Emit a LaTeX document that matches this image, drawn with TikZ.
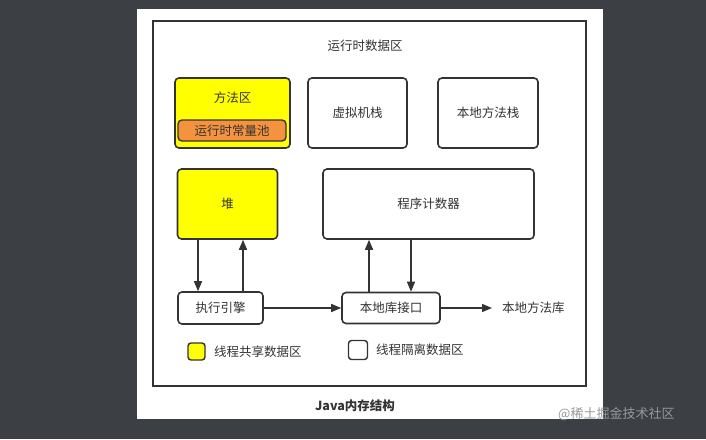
\documentclass[tikz,border=0pt]{standalone}
\usepackage{fontspec}
\newfontfamily\cjk{Noto Sans CJK SC}
\usetikzlibrary{arrows.meta}
\definecolor{bgdark}{RGB}{60,63,68}
\definecolor{ink}{RGB}{51,51,51}
\definecolor{yel}{RGB}{255,255,0}
\definecolor{org}{RGB}{245,146,62}
\definecolor{wm}{RGB}{150,152,156}
\tikzset{
  box/.style={draw=ink, line width=1.6pt, rounded corners=4pt, fill=white, inner sep=0pt},
  lbl/.style={text=ink, font=\cjk\fontsize{12.5}{14}\selectfont, inner sep=0pt},
  arr/.style={draw=ink, line width=1.4pt, -{Triangle[length=10pt,width=8pt]}},
}
\begin{document}
\begin{tikzpicture}[x=1pt,y=-1pt]
\useasboundingbox (0,0) rectangle (706,439);
\fill[bgdark] (0,0) rectangle (706,439);
\fill[white] (137,9) rectangle (603,419);
\draw[ink, line width=1.6pt] (153,21) rectangle (586,386);
\node[lbl] (title) at (365,46) {运行时数据区};
% method area
\node[box, fill=yel, minimum width=115pt, minimum height=70pt] (method) at (232.5,113) {};
\node[lbl] (methodtxt) at (232.5,98) {方法区};
\node[box, fill=org, line width=1.4pt, minimum width=108pt, minimum height=21pt] (pool) at (232,130.5) {};
\node[lbl] (pooltxt) at (pool) {运行时常量池};
\node[box, minimum width=99pt, minimum height=70pt, lbl] (vmstack) at (357.5,113) {虚拟机栈};
\node[box, minimum width=100pt, minimum height=70pt, lbl] (nstack) at (488,113) {本地方法栈};
\node[box, fill=yel, minimum width=100pt, minimum height=70pt, lbl] (heap) at (227.5,204) {堆};
\node[box, minimum width=211pt, minimum height=70pt, lbl] (pc) at (428.5,204) {程序计数器};
\node[box, minimum width=85pt, minimum height=32pt, lbl] (engine) at (220.5,308) {执行引擎};
\node[box, minimum width=98pt, minimum height=31pt, lbl] (nif) at (391,308) {本地库接口};
\node[lbl, anchor=west] (nlib) at (502,308) {本地方法库};
% arrows
\draw[arr] (heap.south -| 198,0) -- (engine.north -| 198,0);
\draw[arr] (engine.north -| 243,0) -- (heap.south -| 243,0);
\draw[arr] (nif.north -| 369,0) -- (pc.south -| 369,0);
\draw[arr] (pc.south -| 411,0) -- (nif.north -| 411,0);
\draw[arr] (engine.east) -- (nif.west);
\draw[arr] (nif.east) -- (nlib.west -| 492,0);
% legend
\node[box, fill=yel, line width=1.4pt, rounded corners=3pt, minimum width=17pt, minimum height=17pt] (lgy) at (196.5,351.5) {};
\node[lbl, anchor=west] (lgyt) at (214,352) {线程共享数据区};
\node[box, line width=1.4pt, rounded corners=3pt, minimum width=19pt, minimum height=19pt] (lgw) at (358,350) {};
\node[lbl, anchor=west] (lgwt) at (376,350) {线程隔离数据区};
% caption
\node[text=ink, font=\cjk\bfseries\fontsize{12.5}{14}\selectfont, inner sep=0pt] (cap) at (355,406) {Java内存结构};
\node[text=wm, font=\cjk\fontsize{13}{15}\selectfont, inner sep=0pt, anchor=west] (wmk) at (558,414) {@稀土掘金技术社区};
\end{tikzpicture}
\end{document}
